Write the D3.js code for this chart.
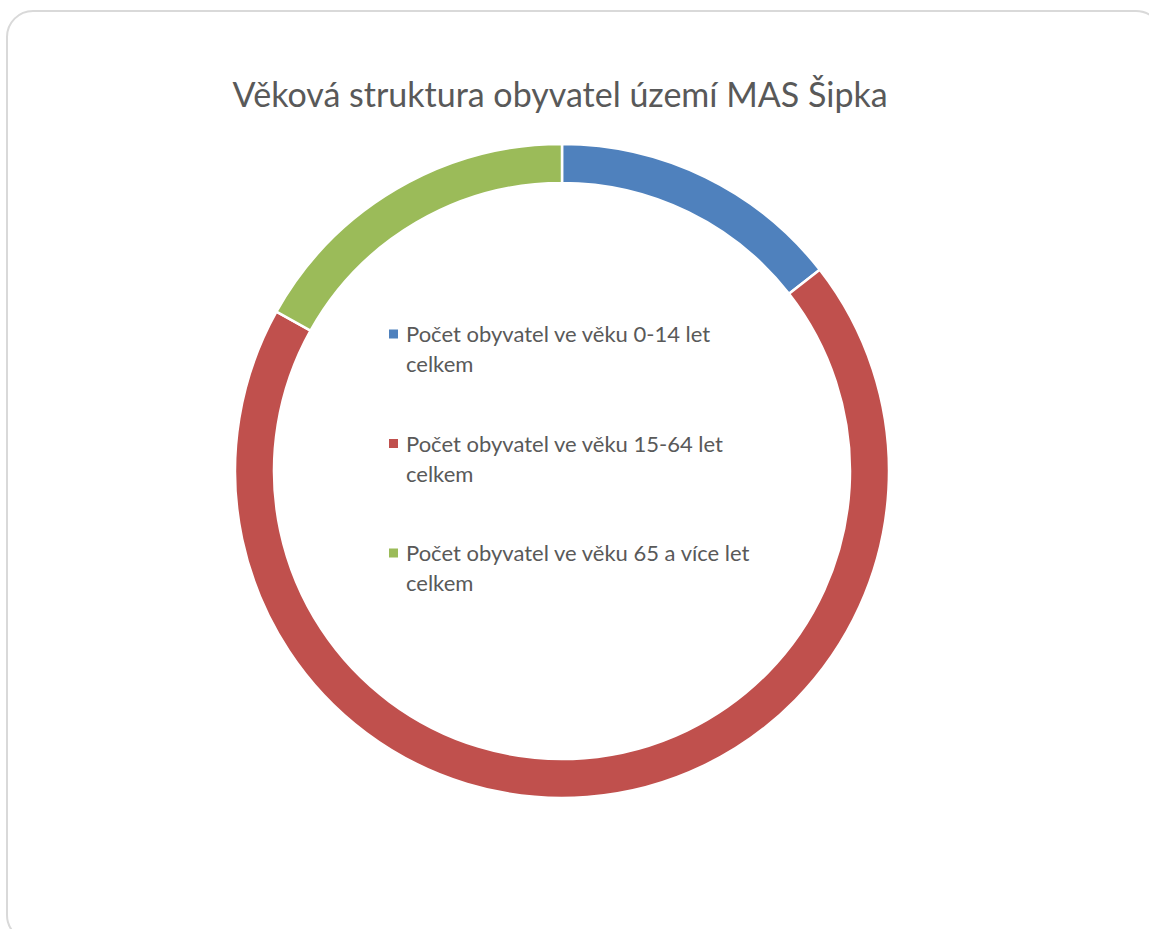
<!DOCTYPE html>
<html lang="cs">
  <head>
    <meta charset="UTF-8">
    <title>Věková struktura obyvatel území MAS Šipka</title>
    <style>
      body { margin: 0; background: #fff; }
      .frame { fill: #fff; stroke: #d9d9d9; stroke-width: 2; }
      .title { font-family: Lato, "Open Sans", sans-serif; font-size: 34px; fill: #595959; }
      .legend text { font-family: Lato, "Open Sans", sans-serif; font-size: 22px; fill: #595959; }
      .slice { stroke: #fff; stroke-width: 2.5; }
    </style>
    <script src="https://d3js.org/d3.v7.min.js"></script>
  </head>
  <body>
    <script>
      const width = 1149;
      const height = 929;

      const categories = [
        "Počet obyvatel ve věku 0-14 let celkem",
        "Počet obyvatel ve věku 15-64 let celkem",
        "Počet obyvatel ve věku 65 a více let celkem"
      ];
      const legendLines = [
        ["Počet obyvatel ve věku 0-14 let", "celkem"],
        ["Počet obyvatel ve věku 15-64 let", "celkem"],
        ["Počet obyvatel ve věku 65 a více let", "celkem"]
      ];
      const values = [14.45, 68.65, 16.9];
      const colors = ["#4f81bd", "#c0504d", "#9bbb59"];

      const cx = 562, cy = 471;
      const outerR = 327, innerR = 288;

      const svg = d3.select("body")
        .append("svg")
        .attr("width", width)
        .attr("height", height);

      svg.append("rect")
        .attr("class", "frame")
        .attr("x", 7)
        .attr("y", 11)
        .attr("width", 1155)
        .attr("height", 930)
        .attr("rx", 26);

      svg.append("text")
        .attr("class", "title")
        .attr("x", 560)
        .attr("y", 107)
        .attr("text-anchor", "middle")
        .text("Věková struktura obyvatel území MAS Šipka");

      const color = d3.scaleOrdinal().domain(categories).range(colors);

      const pie = d3.pie().sort(null).value(d => d.v);
      const arc = d3.arc().innerRadius(innerR).outerRadius(outerR);

      const data = categories.map((c, i) => ({ c, v: values[i] }));

      svg.append("g")
        .attr("transform", `translate(${cx},${cy})`)
        .selectAll("path")
        .data(pie(data))
        .enter()
        .append("path")
        .attr("class", "slice")
        .attr("d", arc)
        .attr("fill", d => color(d.data.c));

      const legend = svg.append("g")
        .attr("class", "legend")
        .attr("transform", "translate(389,0)");

      const item = legend.selectAll("g")
        .data(categories)
        .enter()
        .append("g")
        .attr("transform", (d, i) => `translate(0,${334 + i * 109.5})`);

      item.append("rect")
        .attr("x", 0)
        .attr("y", -4.5)
        .attr("width", 9)
        .attr("height", 9)
        .attr("fill", d => color(d));

      item.append("text")
        .attr("x", 17)
        .attr("y", 8)
        .selectAll("tspan")
        .data((d, i) => legendLines[i])
        .enter()
        .append("tspan")
        .attr("x", 17)
        .attr("dy", (d, j) => j === 0 ? 0 : 30)
        .text(d => d);
    </script>
  </body>
</html>
